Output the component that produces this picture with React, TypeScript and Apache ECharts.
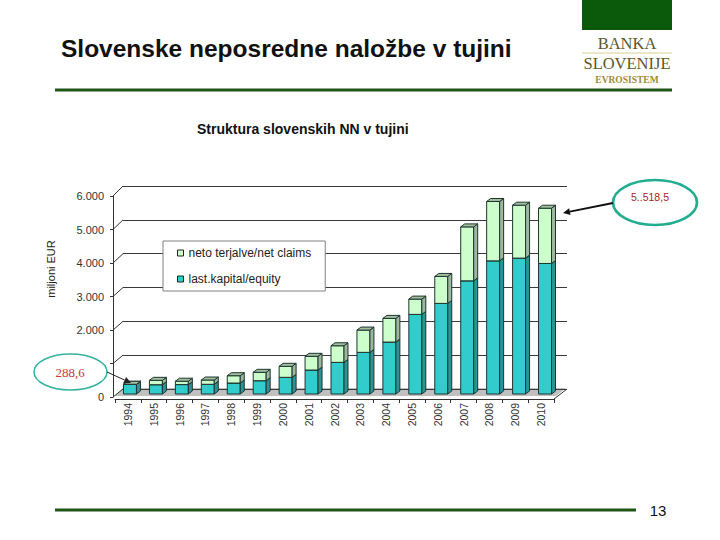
import React, { useEffect, useRef } from "react";
import * as echarts from "echarts";

const years = ["1994","1995","1996","1997","1998","1999","2000","2001","2002","2003","2004","2005","2006","2007","2008","2009","2010"];
const equity = [288.6, 276, 280, 288, 326, 395, 495, 712, 940, 1237, 1543, 2365, 2691, 3362, 3955, 4036, 3878];
const netClaims = [0, 130, 100, 127, 217, 249, 327, 407, 493, 662, 703, 454, 801, 1602, 1763, 1572, 1640.5];
const yTicks = [0, 1000, 2000, 3000, 4000, 5000, 6000];
const seriesNames = ["neto terjalve/net claims", "last.kapital/equity"];

const SANS = '"Liberation Sans", Arial, sans-serif';
const SERIF = '"Liberation Serif", "Times New Roman", serif';

function fmt(v: number): string {
  // the 1.000 label is hidden behind the callout ellipse in the reference
  if (v === 1000) return "";
  if (v >= 1000) return `${Math.floor(v / 1000)}.${String(v % 1000).padStart(3, "0")}`;
  return String(v);
}

function arrow(x1: number, y1: number, x2: number, y2: number, w: number, color: string) {
  const dx = x2 - x1, dy = y2 - y1;
  const len = Math.sqrt(dx * dx + dy * dy);
  const ux = dx / len, uy = dy / len;
  const hl = 7, hw = 3.5;
  const bx = x2 - ux * hl, by = y2 - uy * hl;
  return [
    { type: "line", z: 10, shape: { x1, y1, x2: bx, y2: by }, style: { stroke: color, lineWidth: w } },
    {
      type: "polygon", z: 10,
      shape: { points: [[x2, y2], [bx - uy * hw, by + ux * hw], [bx + uy * hw, by - ux * hw]] },
      style: { fill: color },
    },
  ];
}

function makeRender(kind: "eq" | "cl") {
  return (params: any, api: any) => {
    const x = api.value(0);
    const pb = api.coord([x, api.value(1)]);
    const pt = api.coord([x, api.value(2)]);
    const w = api.size([1, 0])[0] * 0.5;
    const xl = pb[0] - w / 2;
    const xr = pb[0] + w / 2;
    const d = 4, r = 3;
    const front = kind === "eq" ? "#33cccc" : "#ccffcc";
    const side = kind === "eq" ? "#2a9494" : "#9cb79c";
    const top = "#a3bfa0";
    const stroke = "#1d3530";
    return {
      type: "group",
      children: [
        { type: "rect", shape: { x: xl, y: pt[1], width: w, height: pb[1] - pt[1] }, style: { fill: front, stroke, lineWidth: 1 } },
        { type: "polygon", shape: { points: [[xr, pt[1]], [xr + d, pt[1] - r], [xr + d, pb[1] - r], [xr, pb[1]]] }, style: { fill: side, stroke, lineWidth: 1 } },
        { type: "polygon", shape: { points: [[xl, pt[1]], [xr, pt[1]], [xr + d, pt[1] - r], [xl + d, pt[1] - r]] }, style: { fill: top, stroke, lineWidth: 1 } },
      ],
    };
  };
}

export default function App() {
  const ref = useRef<HTMLDivElement>(null);

  useEffect(() => {
    if (!ref.current) return;
    const chart = echarts.init(ref.current, undefined, { renderer: "svg" });

    const fTop = 196, fBot = 397, bTop = 186, bBot = 389;
    const connectors = yTicks.map((v) => ({
      type: "line",
      z: 1,
      shape: {
        x1: 113, y1: fTop + (1 - v / 6000) * (fBot - fTop),
        x2: 123, y2: bTop + (1 - v / 6000) * (bBot - bTop),
      },
      style: { stroke: "#333", lineWidth: 1 },
    }));

    const graphic: any[] = [
      // header
      { type: "text", style: { text: "Slovenske neposredne naložbe v tujini", x: 61, y: 48, fontFamily: SANS, fontWeight: "bold", fontSize: 24.5, fill: "#111", align: "left", verticalAlign: "middle" } },
      { type: "rect", shape: { x: 582, y: 0, width: 90, height: 30 }, style: { fill: "#0b5a0b" } },
      { type: "text", style: { text: "BANKA", x: 627, y: 43, fontFamily: SERIF, fontSize: 16.5, fill: "#5b5829", align: "center", verticalAlign: "middle" } },
      { type: "line", shape: { x1: 582, y1: 53, x2: 672, y2: 53 }, style: { stroke: "#e6e0b4", lineWidth: 1.5 } },
      { type: "text", style: { text: "SLOVENIJE", x: 627, y: 63, fontFamily: SERIF, fontSize: 16.5, fill: "#5b5829", align: "center", verticalAlign: "middle" } },
      { type: "text", style: { text: "EVROSISTEM", x: 627, y: 80, fontFamily: SERIF, fontSize: 9.5, fontWeight: "bold", fill: "#a08a36", align: "center", verticalAlign: "middle" } },
      { type: "line", shape: { x1: 55, y1: 90, x2: 672, y2: 90 }, style: { stroke: "#1f5418", lineWidth: 3 } },
      // footer
      { type: "line", shape: { x1: 55, y1: 510, x2: 636, y2: 510 }, style: { stroke: "#1f5418", lineWidth: 3 } },
      { type: "text", style: { text: "13", x: 658, y: 510, fontFamily: SANS, fontSize: 15, fill: "#111", align: "center", verticalAlign: "middle" } },
      // chart title
      { type: "text", style: { text: "Struktura slovenskih NN v tujini", x: 197, y: 129, fontFamily: SANS, fontWeight: "bold", fontSize: 14, fill: "#111", align: "left", verticalAlign: "middle" } },
      // y axis name
      { type: "text", x: 51, y: 269, rotation: Math.PI / 2, style: { text: "miljoni EUR", x: 0, y: 0, fontFamily: SANS, fontSize: 11, fill: "#222", align: "center", verticalAlign: "middle" } },
      // floor
      { type: "polygon", z: 0, shape: { points: [[115, 396], [556, 396], [566, 388], [123, 388]] }, style: { fill: "#c0c0c0" } },
      { type: "line", z: 1, shape: { x1: 554, y1: 399, x2: 567, y2: 389 }, style: { stroke: "#333", lineWidth: 1 } },
      ...connectors,
      // annotations
      { type: "ellipse", z: 10, shape: { cx: 70.5, cy: 372, rx: 36.5, ry: 18 }, style: { fill: "#ffffff", stroke: "#35b3a0", lineWidth: 1.5 } },
      { type: "text", z: 11, style: { text: "288,6", x: 70, y: 372, fontFamily: SERIF, fontSize: 13, fill: "#d03434", align: "center", verticalAlign: "middle" } },
      ...arrow(107, 372, 131, 383, 1, "#222"),
      { type: "ellipse", z: 10, shape: { cx: 655, cy: 202.5, rx: 42, ry: 22.5 }, style: { fill: "#ffffff", stroke: "#22ad90", lineWidth: 2.7 } },
      { type: "text", z: 11, style: { text: "5..518,5", x: 650, y: 197, fontFamily: SANS, fontSize: 10.5, fill: "#a82424", align: "center", verticalAlign: "middle" } },
      ...arrow(613, 203, 563, 213, 2, "#111"),
    ];

    chart.setOption({
      animation: false,
      backgroundColor: "#ffffff",
      textStyle: { fontFamily: SANS },
      grid: [
        { left: 117, right: 162, top: 192, bottom: 146 },
        { left: 113, right: 162, top: 196, bottom: 143 },
        { left: 123, right: 153, top: 186, bottom: 151 },
        { left: 115, right: 166, top: 196, bottom: 141 },
      ],
      xAxis: [
        { gridIndex: 0, type: "category", data: years, show: false },
        { gridIndex: 1, type: "category", data: years, show: false },
        { gridIndex: 2, type: "category", data: years, show: false },
        {
          gridIndex: 3, type: "category", data: years,
          axisLine: { lineStyle: { color: "#333", width: 1 } },
          axisTick: { show: true, length: 4, interval: 0, lineStyle: { color: "#333" } },
          axisLabel: { interval: 0, rotate: 90, fontSize: 10.5, color: "#333", margin: 4, fontFamily: SANS },
        },
      ],
      yAxis: [
        { gridIndex: 0, type: "value", min: 0, max: 6000, show: false, splitLine: { show: false } },
        {
          gridIndex: 1, type: "value", min: 0, max: 6000, interval: 1000,
          axisLine: { show: true, lineStyle: { color: "#333", width: 1 } },
          axisTick: { show: true, length: 3, lineStyle: { color: "#333" } },
          axisLabel: { fontSize: 11, color: "#333", margin: 9, formatter: (v: number) => fmt(v), fontFamily: SANS },
          splitLine: { show: false },
        },
        {
          gridIndex: 2, type: "value", min: 0, max: 6000, interval: 1000,
          axisLine: { show: false }, axisTick: { show: false }, axisLabel: { show: false },
          splitLine: { show: true, lineStyle: { color: "#3a3a3a", width: 1 } },
        },
        { gridIndex: 3, type: "value", min: 0, max: 6000, show: false, splitLine: { show: false } },
      ],
      legend: {
        orient: "vertical",
        left: 163, top: 241,
        data: seriesNames,
        icon: "rect",
        itemWidth: 6, itemHeight: 6, itemGap: 14,
        padding: [6, 14, 6, 14],
        backgroundColor: "#ffffff",
        borderColor: "#808080", borderWidth: 1,
        itemStyle: { borderColor: "#222", borderWidth: 1 },
        textStyle: { fontSize: 12, color: "#222", fontFamily: SANS },
        z: 5,
      },
      series: [
        {
          name: seriesNames[1], type: "custom", xAxisIndex: 0, yAxisIndex: 0,
          itemStyle: { color: "#33cccc" },
          renderItem: makeRender("eq"),
          encode: { x: 0, y: [1, 2] },
          data: years.map((_, i) => [i, 0, equity[i]]),
          z: 3,
        },
        {
          name: seriesNames[0], type: "custom", xAxisIndex: 0, yAxisIndex: 0,
          itemStyle: { color: "#ccffcc" },
          renderItem: makeRender("cl"),
          encode: { x: 0, y: [1, 2] },
          data: years.map((_, i) => [i, equity[i], equity[i] + netClaims[i]]),
          z: 4,
        },
      ],
      graphic,
    });

    return () => chart.dispose();
  }, []);

  return <div ref={ref} style={{ position: "fixed", left: 0, top: 0, width: 720, height: 540 }} />;
}
